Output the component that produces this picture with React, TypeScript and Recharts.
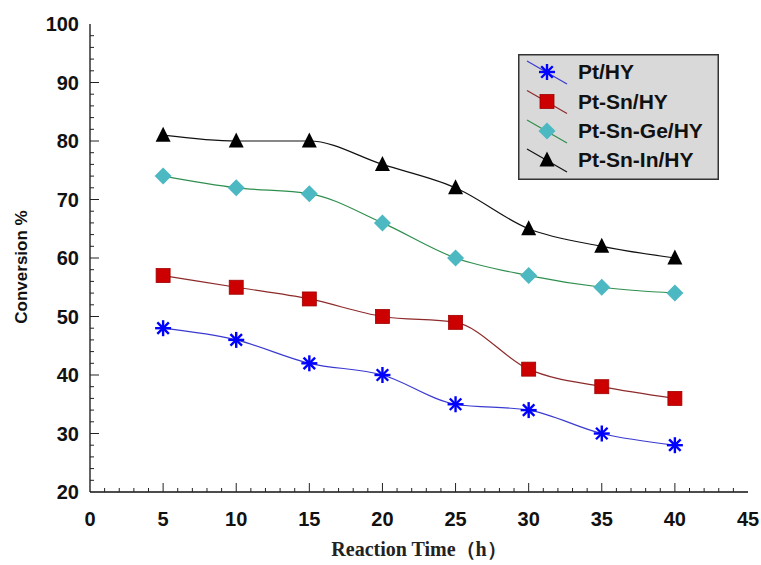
import { LineChart, Line, XAxis, YAxis, Legend } from 'recharts';

const hours = [5, 10, 15, 20, 25, 30, 35, 40];
const ptHY = [48, 46, 42, 40, 35, 34, 30, 28];
const ptSnHY = [57, 55, 53, 50, 49, 41, 38, 36];
const ptSnGeHY = [74, 72, 71, 66, 60, 57, 55, 54];
const ptSnInHY = [81, 80, 80, 76, 72, 65, 62, 60];

const xMajor = [0, 5, 10, 15, 20, 25, 30, 35, 40, 45];
const yMajor = [20, 30, 40, 50, 60, 70, 80, 90, 100];

// minor ticks: every 1 h on x, every 2 % on y
const xAll: number[] = [];
for (let i = 0; i <= 45; i++) xAll.push(i);
const yAll: number[] = [];
for (let v = 20; v <= 100; v += 2) yAll.push(v);

const data = hours.map((h, i) => ({
  h,
  pt: ptHY[i],
  ptSn: ptSnHY[i],
  ptSnGe: ptSnGeHY[i],
  ptSnIn: ptSnInHY[i],
}));

const series = [
  { key: 'pt', name: 'Pt/HY', line: '#3a3ad0', marker: 'star', fill: '#0000ff' },
  { key: 'ptSn', name: 'Pt-Sn/HY', line: '#8e2a2a', marker: 'square', fill: '#cc0000' },
  { key: 'ptSnGe', name: 'Pt-Sn-Ge/HY', line: '#2f8f4f', marker: 'diamond', fill: '#4bb8c2' },
  { key: 'ptSnIn', name: 'Pt-Sn-In/HY', line: '#111111', marker: 'triangle', fill: '#000000' },
];

const labelFont = '"Liberation Sans", Arial, sans-serif';

function Marker({ type, cx, cy, fill }: { type: string; cx: number; cy: number; fill: string }) {
  if (type === 'star') {
    const r = 8;
    const d = r * 0.72;
    return (
      <g stroke={fill} strokeWidth={2.4}>
        <line x1={cx - r} y1={cy} x2={cx + r} y2={cy} />
        <line x1={cx} y1={cy - r} x2={cx} y2={cy + r} />
        <line x1={cx - d} y1={cy - d} x2={cx + d} y2={cy + d} />
        <line x1={cx - d} y1={cy + d} x2={cx + d} y2={cy - d} />
      </g>
    );
  }
  if (type === 'square') {
    return <rect x={cx - 7} y={cy - 7} width={14} height={14} fill={fill} stroke="#a00000" strokeWidth={0.8} />;
  }
  if (type === 'diamond') {
    return <polygon points={`${cx},${cy - 8.5} ${cx + 8.5},${cy} ${cx},${cy + 8.5} ${cx - 8.5},${cy}`} fill={fill} />;
  }
  return <polygon points={`${cx},${cy - 8.5} ${cx + 7.5},${cy + 6.5} ${cx - 7.5},${cy + 6.5}`} fill={fill} />;
}

const makeDot = (type: string, fill: string) => (props: any) => {
  const { cx, cy, index } = props;
  if (cx == null || cy == null) return <g key={index} />;
  return <Marker key={index} type={type} cx={cx} cy={cy} fill={fill} />;
};

const BottomTick = (props: any) => {
  const { x, y, payload } = props;
  const major = xMajor.includes(payload.value);
  const len = major ? 9 : 4;
  const inner = payload.value !== 0 && payload.value !== 45;
  return (
    <g>
      {inner && <line x1={x} y1={y} x2={x} y2={y - len} stroke="#222" strokeWidth={1} />}
      {major && (
        <text x={x} y={y + 34} textAnchor="middle" fontFamily={labelFont} fontWeight="bold" fontSize={20} fill="#111">
          {payload.value}
        </text>
      )}
    </g>
  );
};

const TopTick = (props: any) => {
  const { x, y, payload } = props;
  if (payload.value === 0 || payload.value === 45) return <g />;
  const len = payload.value % 5 === 0 ? 6 : 3;
  return <line x1={x} y1={y} x2={x} y2={y + len} stroke="#999" strokeWidth={1} />;
};

const LeftTick = (props: any) => {
  const { x, y, payload } = props;
  const major = yMajor.includes(payload.value);
  const len = major ? 9 : 4;
  const inner = payload.value !== 20 && payload.value !== 100;
  return (
    <g>
      {inner && <line x1={x} y1={y} x2={x + len} y2={y} stroke="#222" strokeWidth={1} />}
      {major && (
        <text x={x - 11} y={y + 7} textAnchor="end" fontFamily={labelFont} fontWeight="bold" fontSize={20} fill="#111">
          {payload.value}
        </text>
      )}
    </g>
  );
};

const RightTick = (props: any) => {
  const { x, y, payload } = props;
  if (payload.value === 20 || payload.value === 100) return <g />;
  const len = payload.value % 10 === 0 ? 6 : 3;
  return <line x1={x} y1={y} x2={x - len} y2={y} stroke="#999" strokeWidth={1} />;
};

const YTitle = (props: any) => {
  const vb = props.viewBox || { x: 0, y: 24, width: 90, height: 468 };
  const cx = vb.x + 21;
  const cy = vb.y + vb.height / 2 + 9;
  return (
    <text
      x={cx}
      y={cy}
      transform={`rotate(-90, ${cx}, ${cy})`}
      textAnchor="middle"
      dominantBaseline="central"
      fontFamily={labelFont}
      fontWeight="bold"
      fontSize={17}
      fill="#111"
    >
      Conversion %
    </text>
  );
};

function LegendBox() {
  const rows = [72, 101.5, 131, 160].map((v) => v - 54);
  return (
    <svg width={201} height={126} style={{ display: 'block' }}>
      <rect x={0.75} y={0.75} width={199.5} height={124.5} fill="#d9d9d9" stroke="#333" strokeWidth={1.5} />
      {series.map((s, i) => (
        <g key={s.key}>
          <line x1={9} y1={rows[i] - 11} x2={49} y2={rows[i] + 12} stroke={s.line} strokeWidth={1.2} />
          <Marker type={s.marker} cx={29} cy={rows[i]} fill={s.fill} />
          <text x={60} y={rows[i] + 7} fontFamily={labelFont} fontWeight="bold" fontSize={21} fill="#111">
            {s.name}
          </text>
        </g>
      ))}
    </svg>
  );
}

export default function App() {
  return (
    <div style={{ position: 'absolute', left: 0, top: 0, width: 761, height: 565, background: '#fff' }}>
      <LineChart width={761} height={565} data={data} margin={{ top: 24, right: 13, left: 0, bottom: 0 }}>
        <XAxis
          xAxisId="b"
          dataKey="h"
          type="number"
          domain={[0, 45]}
          ticks={xAll}
          interval={0}
          height={73}
          tickSize={0}
          tickMargin={0}
          tickLine={false}
          tick={BottomTick}
          axisLine={{ stroke: '#111', strokeWidth: 1.3 }}
          label={{
            value: 'Reaction Time（h）',
            position: 'insideBottom',
            offset: 9,
            fontSize: 20,
            style: { fontFamily: '"Liberation Serif", "Times New Roman", serif', fontWeight: 'bold', fontSize: 20, fill: '#222' },
          }}
        />
        <XAxis
          xAxisId="t"
          orientation="top"
          dataKey="h"
          type="number"
          domain={[0, 45]}
          ticks={xAll}
          interval={0}
          height={0}
          tickSize={0}
          tickMargin={0}
          tickLine={false}
          tick={TopTick}
          axisLine={{ stroke: '#111', strokeWidth: 1.3 }}
        />
        <YAxis
          yAxisId="l"
          type="number"
          domain={[20, 100]}
          ticks={yAll}
          interval={0}
          width={90}
          tickSize={0}
          tickMargin={0}
          tickLine={false}
          tick={LeftTick}
          axisLine={{ stroke: '#111', strokeWidth: 1.3 }}
          label={{ content: YTitle }}
        />
        <YAxis
          yAxisId="r"
          orientation="right"
          type="number"
          domain={[20, 100]}
          ticks={yAll}
          interval={0}
          width={0}
          tickSize={0}
          tickMargin={0}
          tickLine={false}
          tick={RightTick}
          axisLine={{ stroke: '#111', strokeWidth: 1.3 }}
        />
        <Legend
          layout="vertical"
          align="center"
          verticalAlign="middle"
          content={() => <LegendBox />}
          wrapperStyle={{ position: 'absolute', left: 518, top: 54, width: 201, height: 126 }}
        />
        {series.map((s) => (
          <Line
            key={s.key}
            xAxisId="b"
            yAxisId="l"
            type="monotone"
            dataKey={s.key}
            name={s.name}
            stroke={s.line}
            strokeWidth={1.2}
            dot={makeDot(s.marker, s.fill)}
            activeDot={false}
            isAnimationActive={false}
          />
        ))}
      </LineChart>
    </div>
  );
}
